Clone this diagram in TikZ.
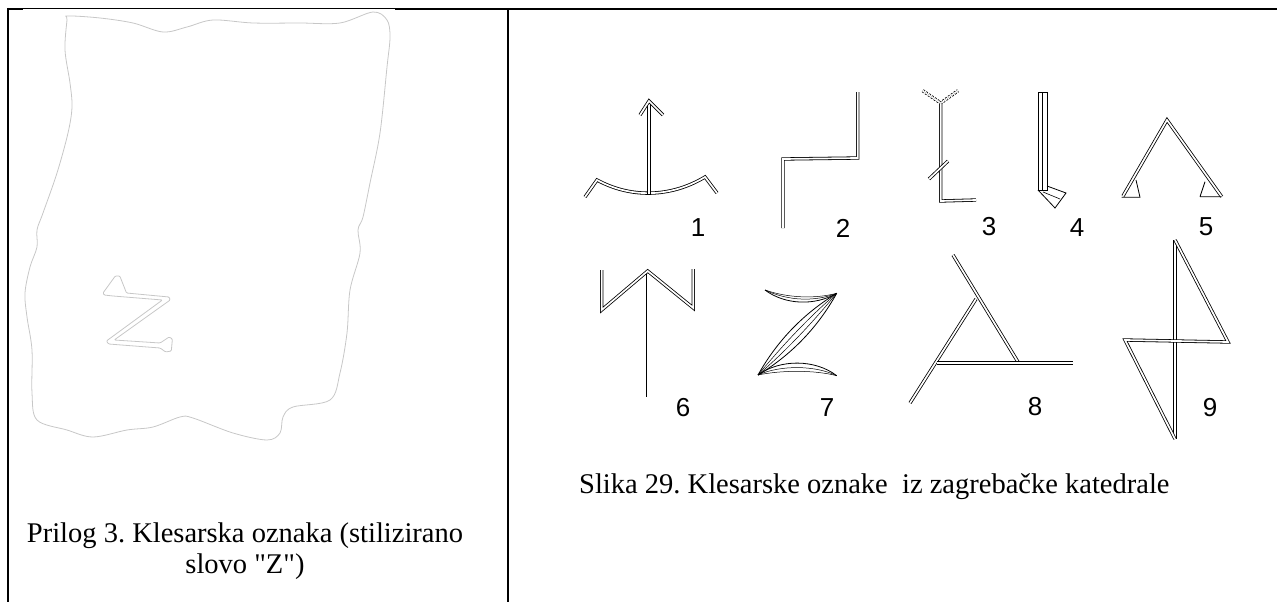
\documentclass[tikz,border=0pt]{standalone}
\usepackage{fontspec}
\setmainfont{Liberation Serif}[Ligatures=TeXOff]
\newfontfamily\digitfont{Liberation Sans}
\usepackage{tikz}

\tikzset{
    rule/.style={line width=2pt},
    stone/.style={black!22, line width=0.8pt},
    glyph/.style={double=white, double distance=1.7pt, line width=0.8pt},
    num/.style={font=\fontsize{26}{26}\selectfont\digitfont, inner sep=0pt},
    caption/.style={font=\fontsize{28.5}{31}\selectfont\frenchspacing, align=center, inner sep=0pt}
}

\begin{document}
\begin{tikzpicture}[x=1pt, y=-1pt]
    \useasboundingbox (0,0) rectangle (1277,602);

    % Table rules
    \draw[rule] (8,9) -- (23,9);
    \draw[line width=1pt] (23,9) -- (395,9);
    \draw[rule] (395,9) -- (1277,9);
    \draw[rule] (8,8) -- (8,602);
    \draw[rule] (508,9) -- (508,602);

    % Stone with the letter Z
    \draw[stone] plot[smooth cycle, tension=0.55] coordinates {
        (68,16) (100,18) (133,23) (163,32) (187,27) (213,20) (253,23) (300,23)
        (340,23) (373,12) (387,20) (390,37) (387,67) (380,133) (370,183)
        (363,217) (358,230) (360,253) (350,290) (347,333) (340,373) (330,400)
        (293,407) (283,417) (280,433) (267,440) (233,433) (193,418) (180,417)
        (153,427) (127,430) (93,437) (67,430) (37,420) (32,393) (32,350)
        (27,317) (25,293) (30,267) (37,247) (37,230) (43,213) (57,173)
        (68,133) (72,107) (70,83) (65,50) (67,20)};
    \draw[stone, rounded corners=1pt] (115.3,276) -- (119.8,276) -- (126.5,293)
        -- (169.1,297) -- (170.2,300) -- (114.2,340) -- (160.1,343) -- (169.1,337)
        -- (172.4,339) -- (171.3,351) -- (165.7,352) -- (160.1,348) -- (108.6,344)
        -- (106.4,341) -- (162.4,300) -- (113.1,296) -- (104.1,295) -- (103,293) -- cycle;

    % Mason's marks, first row
    \draw[glyph] (585,197) -- (597,180) .. controls (630,198) and (670,198) .. (705,177) -- (717,193);
    \draw[glyph] (649,194) -- (649,101);
    \draw[glyph] (640,115) -- (649,101) -- (663,115);
    \draw[glyph] (857.7,92) -- (857.7,158) -- (783,159) -- (783,228);
    \draw[glyph, dash pattern=on 2pt off 1.5pt] (922.7,90.7) -- (940.7,103) -- (958,90.7);
    \draw[glyph] (940.7,104) -- (940.7,201) -- (976,200);
    \draw[glyph] (929,179) -- (948,161);
    \draw[line width=0.8pt] (1038,92) rectangle (1047,190);
    \draw[line width=0.6pt] (1042.5,92) -- (1042.5,190);
    \draw[line width=0.8pt] (1038,190) -- (1055,208) -- (1066,193) -- (1047,186);
    \draw[line width=0.6pt] (1043,192) -- (1060,199);
    \draw[glyph] (1123,196) -- (1167,120) -- (1221.7,196.7);
    \draw[line width=0.8pt] (1121.7,197.3) -- (1140,197.3) -- (1136,180);
    \draw[line width=0.8pt] (1200,196.7) -- (1221.7,196.7) (1200,196.7) -- (1205,181.7);

    % Mason's marks, second row
    \draw[glyph] (601.7,270) -- (601.7,310) -- (647.7,271) -- (693.3,308) -- (693.3,269);
    \draw[glyph] (647.7,274) -- (647.7,396.7);
    \draw[line width=0.8pt] (765,290) .. controls (785,305) and (815,306) .. (836.7,293.3);
    \draw[line width=0.5pt] (765,290) .. controls (788,298) and (815,299) .. (836.7,293.3);
    \draw[line width=0.5pt] (765,290) .. controls (788,301) and (815,302) .. (836.7,293.3);
    \draw[line width=0.8pt] (836.7,293.3) .. controls (817.7,327.5) and (791.4,354.8) .. (758,375);
    \draw[line width=0.8pt] (836.7,293.3) .. controls (803.3,313.7) and (777,341) .. (758,375);
    \draw[line width=0.5pt] (836.7,293.3) .. controls (813,322) and (787,350) .. (758,375);
    \draw[line width=0.5pt] (836.7,293.3) .. controls (808,318) and (782,346) .. (758,375);
    \draw[line width=0.8pt] (758,375) .. controls (780,359) and (815,359) .. (836.7,375.7);
    \draw[line width=0.5pt] (758,375) .. controls (780,365) and (815,365) .. (836.7,375.7);
    \draw[line width=0.5pt] (758,375) .. controls (782,370) and (815,370) .. (836.7,375.7);
    \draw[glyph] (953,255) -- (1018,362);
    \draw[glyph] (910,403) -- (976,299);
    \draw[glyph] (937,363) -- (1073,363);
    \draw[glyph] (1175,240) -- (1175,439);
    \draw[glyph] (1175,240) -- (1228,342) -- (1125,340) -- (1175,439);

    % Numbers
    \node[num] (n1) at (698,228) {1};
    \node[num] (n2) at (843,228) {2};
    \node[num] (n3) at (989,227) {3};
    \node[num] (n4) at (1077,228) {4};
    \node[num] (n5) at (1206,227) {5};
    \node[num] (n6) at (683,408) {6};
    \node[num] (n7) at (827,408) {7};
    \node[num] (n8) at (1035,407) {8};
    \node[num] (n9) at (1210,408) {9};

    % Captions
    \node[caption] (prilog) at (245,551) {Prilog 3. Klesarska oznaka (stilizirano\\slovo "Z")};
    \node[caption, anchor=west] (slika) at (579,487) {Slika 29. Klesarske oznake\ \ iz zagrebačke katedrale};
\end{tikzpicture}
\end{document}
